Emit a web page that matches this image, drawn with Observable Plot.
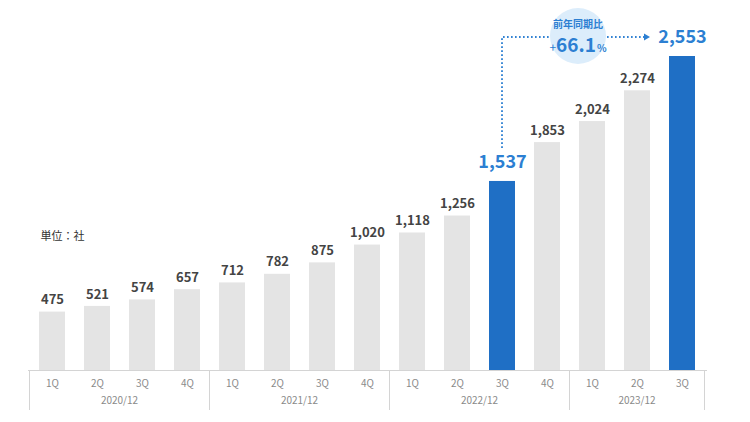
<!DOCTYPE html>
<html>
<head>
<meta charset="utf-8">
<script src="https://cdn.jsdelivr.net/npm/d3@7"></script>
<script src="https://cdn.jsdelivr.net/npm/@observablehq/plot@0.6"></script>
<style>
  html, body { margin: 0; padding: 0; background: #fff; }
  #chart svg { display: block; }
</style>
</head>
<body>
<div id="chart"></div>
<script>
const years = ["2020/12","2020/12","2020/12","2020/12","2021/12","2021/12","2021/12","2021/12","2022/12","2022/12","2022/12","2022/12","2023/12","2023/12","2023/12"];
const quarters = ["1Q","2Q","3Q","4Q","1Q","2Q","3Q","4Q","1Q","2Q","3Q","4Q","1Q","2Q","3Q"];
const values = [475, 521, 574, 657, 712, 782, 875, 1020, 1118, 1256, 1537, 1853, 2024, 2274, 2553];
const highlighted = [10, 14];
const unitLabel = "単位：社";
const yoyTitle = "前年同期比";
const yoyValue = "66.1";

const data = values.map((v, i) => ({
  key: years[i] + " " + quarters[i],
  year: years[i],
  quarter: quarters[i],
  value: v,
  hl: highlighted.includes(i)
}));
const keys = data.map(d => d.key);
const normal = data.filter(d => !d.hl);
const hot = data.filter(d => d.hl);
const fmt = d3.format(",");
const FONT = "'Noto Sans CJK JP', 'Noto Sans', sans-serif";
const BLUE = "#1f6fc5";
const LBLUE = "#2c7fd2";

function yearAxis(index, scales) {
  const {x, y} = scales;
  const bw = x.bandwidth();
  const step = x.step();
  const g = d3.create("svg:g");
  const groups = d3.groups(data, d => d.year);
  const y0 = y(0);
  const bounds = [];
  groups.forEach(([yr, rows]) => {
    const a = x(rows[0].key) - (step - bw) / 2;
    const b = x(rows[rows.length - 1].key) + bw + (step - bw) / 2;
    bounds.push(a, b);
    g.append("text")
      .attr("x", (a + b) / 2).attr("y", y0 + 31)
      .attr("text-anchor", "middle").attr("dominant-baseline", "middle")
      .attr("font-size", 10).attr("fill", "#8a8a8a").attr("font-family", FONT)
      .text(yr);
  });
  Array.from(new Set(bounds.map(v => Math.round(v * 10) / 10))).forEach(bx => {
    g.append("line").attr("x1", bx).attr("x2", bx).attr("y1", y0).attr("y2", y0 + 40)
      .attr("stroke", "#d4d4d4").attr("stroke-width", 1);
  });
  return g.node();
}

function annotation(index, scales) {
  const {x, y} = scales;
  const bw = x.bandwidth();
  const a = hot[0], b = hot[1];
  const x1 = x(a.key) + bw / 2;
  const x2 = x(b.key) + bw / 2;
  const yLine = y(b.value) - 19;
  const yStart = y(a.value) - 33;
  const tipX = x2 - 32;
  const g = d3.create("svg:g");
  g.append("path")
    .attr("d", `M${x1},${yStart}V${yLine}H${tipX - 5}`)
    .attr("fill", "none").attr("stroke", LBLUE).attr("stroke-width", 1.8)
    .attr("stroke-dasharray", "1.6 2.4");
  g.append("path")
    .attr("d", `M${tipX - 6},${yLine - 3.5}L${tipX},${yLine}L${tipX - 6},${yLine + 3.5}Z`)
    .attr("fill", LBLUE);
  const cx = (x1 + tipX) / 2 + 2;
  const cy = yLine - 1;
  g.append("circle").attr("cx", cx).attr("cy", cy).attr("r", 28).attr("fill", "#dcedfb");
  g.append("text").attr("x", cx).attr("y", cy - 11)
    .attr("text-anchor", "middle").attr("dominant-baseline", "middle")
    .attr("font-size", 10).attr("font-weight", "bold").attr("fill", LBLUE)
    .attr("font-family", FONT).text(yoyTitle);
  const t = g.append("text").attr("x", cx).attr("y", cy + 16)
    .attr("text-anchor", "middle").attr("fill", LBLUE).attr("font-family", FONT)
    .attr("font-weight", "bold");
  t.append("tspan").attr("font-size", 12).attr("font-weight", "normal").text("+");
  t.append("tspan").attr("font-size", 19).text(yoyValue);
  t.append("tspan").attr("font-size", 10).attr("dx", 1).text("%");
  return g.node();
}

const chart = Plot.plot({
  width: 750,
  height: 422,
  marginLeft: 28,
  marginRight: 43,
  marginTop: 0,
  marginBottom: 52,
  style: {fontFamily: FONT, background: "#fff"},
  x: {domain: keys, paddingInner: 0.42, paddingOuter: 0.21, axis: null},
  y: {domain: [0, 2553], range: [370, 56], axis: null},
  marks: [
    Plot.barY(normal, {x: "key", y: "value", fill: "#e4e4e4"}),
    Plot.barY(hot, {x: "key", y: "value", fill: BLUE}),
    Plot.ruleY([0], {stroke: "#d4d4d4"}),
    Plot.text(normal, {x: "key", y: "value", text: d => fmt(d.value), dy: -12, fontSize: 13, fontWeight: "bold", fill: "#444"}),
    Plot.text(hot, {x: "key", y: "value", text: d => fmt(d.value), dy: -19, fontSize: 18, fontWeight: "bold", fill: LBLUE}),
    Plot.text(data, {x: "key", y: 0, text: "quarter", dy: 13, fontSize: 10, fill: "#8a8a8a"}),
    yearAxis,
    annotation,
    Plot.text([unitLabel], {frameAnchor: "top-left", dx: 12, dy: 232, textAnchor: "start", fontSize: 11, fill: "#333"})
  ]
});
document.getElementById("chart").appendChild(chart);
</script>
</body>
</html>
